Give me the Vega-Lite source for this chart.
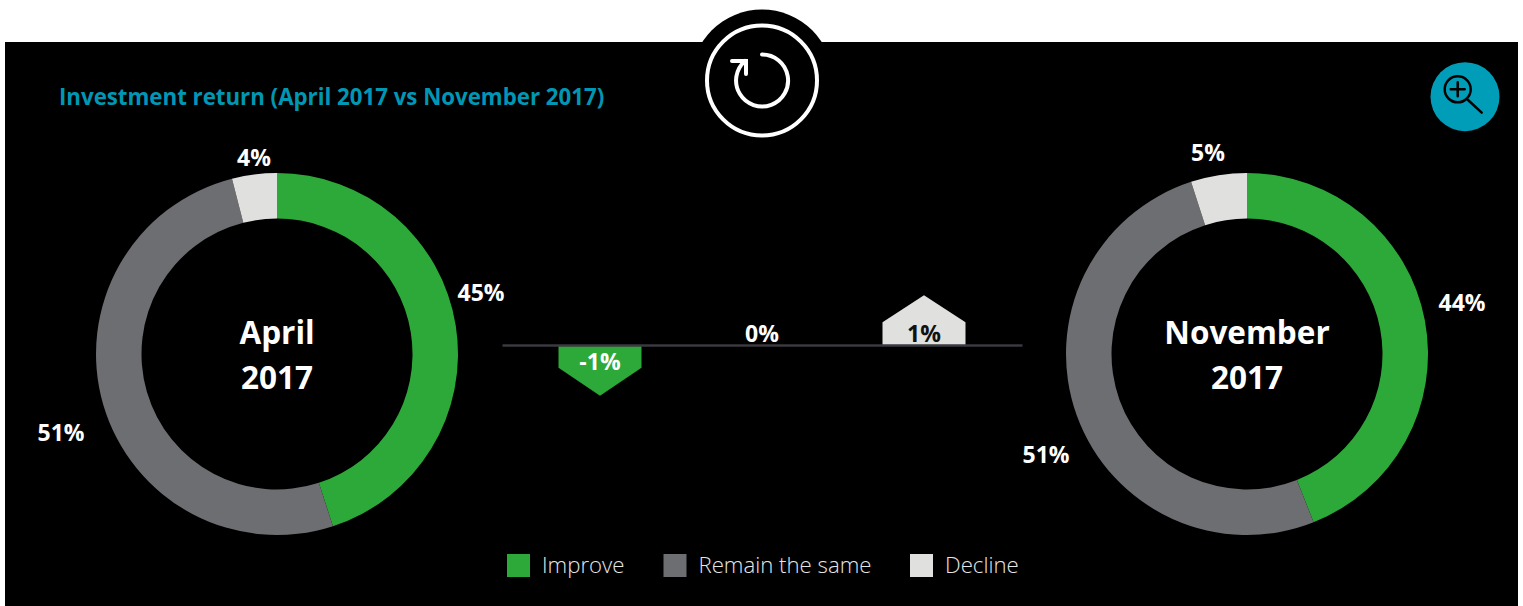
{
  "$schema": "https://vega.github.io/schema/vega-lite/v6.json",
  "width": 1513,
  "height": 564,
  "padding": {"left": 5, "top": 42, "right": 5, "bottom": 0},
  "autosize": "none",
  "background": "#ffffff",
  "title": {
    "text": "Investment return (April 2017 vs November 2017)",
    "anchor": "start",
    "frame": "group",
    "offset": 0,
    "dx": 54,
    "dy": 118,
    "baseline": "alphabetic",
    "font": "Open Sans",
    "fontSize": 22.25,
    "fontWeight": 700,
    "color": "#0097b5"
  },
  "config": {
    "view": {"fill": "#000000", "stroke": null},
    "text": {"font": "Open Sans"}
  },
  "datasets": {
    "shares": [
      {"chart": "April 2017", "category": "Improve", "share": 45, "rank": 1},
      {"chart": "April 2017", "category": "Remain the same", "share": 51, "rank": 2},
      {"chart": "April 2017", "category": "Decline", "share": 4, "rank": 3},
      {"chart": "November 2017", "category": "Improve", "share": 44, "rank": 1},
      {"chart": "November 2017", "category": "Remain the same", "share": 51, "rank": 2},
      {"chart": "November 2017", "category": "Decline", "share": 5, "rank": 3}
    ],
    "changes": [
      {"category": "Improve", "change": -1},
      {"category": "Remain the same", "change": 0},
      {"category": "Decline", "change": 1}
    ],
    "controls": [
      {"control": "refresh"},
      {"control": "zoom"}
    ]
  },
  "resolve": {"scale": {"x": "independent", "y": "independent"}},
  "layer": [
    {
      "data": {"name": "shares"},
      "transform": [{"filter": "datum.chart === 'April 2017'"}],
      "mark": {"type": "arc", "radius": 181, "innerRadius": 135.5},
      "encoding": {
        "x": {"field": "chart", "type": "nominal", "axis": null, "scale": {"type": "point", "domain": ["April 2017", "November 2017"], "range": [272, 1242], "padding": 0, "round": false}},
        "y": {"field": "chart", "type": "nominal", "axis": null, "scale": {"type": "point", "domain": ["April 2017", "November 2017"], "range": [312, 312], "padding": 0, "round": false}},
        "theta": {"field": "share", "type": "quantitative", "stack": true, "scale": {"domain": [0, 100]}},
        "order": {"field": "rank", "type": "ordinal"},
        "color": {
          "field": "category",
          "type": "nominal",
          "scale": {"domain": ["Improve", "Remain the same", "Decline"], "range": ["#2ca939", "#6d6e72", "#e0e0de"]},
          "legend": {
            "title": null,
            "orient": "none",
            "legendX": 502,
            "legendY": 512,
            "direction": "horizontal",
            "columns": 3,
            "columnPadding": 38.5,
            "symbolType": "square",
            "symbolSize": 529,
            "symbolStrokeWidth": 0,
            "labelOffset": 12,
            "labelFont": "Open Sans",
            "labelFontWeight": 300,
            "labelFontSize": 22.2,
            "labelColor": "#e6e6e6",
            "labelLimit": 300
          }
        }
      }
    },
    {
      "data": {"name": "shares"},
      "transform": [{"filter": "datum.chart === 'November 2017'"}],
      "mark": {"type": "arc", "radius": 181, "innerRadius": 135.5},
      "encoding": {
        "x": {"field": "chart", "type": "nominal", "axis": null, "scale": {"type": "point", "domain": ["April 2017", "November 2017"], "range": [272, 1242], "padding": 0, "round": false}},
        "y": {"field": "chart", "type": "nominal", "axis": null, "scale": {"type": "point", "domain": ["April 2017", "November 2017"], "range": [312, 312], "padding": 0, "round": false}},
        "theta": {"field": "share", "type": "quantitative", "stack": true, "scale": {"domain": [0, 100]}},
        "order": {"field": "rank", "type": "ordinal"},
        "color": {"field": "category", "type": "nominal"}
      }
    },
    {
      "data": {"values": [{"chart": "April 2017"}, {"chart": "November 2017"}]},
      "mark": {"type": "text", "lineBreak": " ", "lineHeight": 45, "fontSize": 31.5, "fontWeight": 700, "color": "#ffffff", "align": "center", "baseline": "middle"},
      "encoding": {
        "x": {"field": "chart", "type": "nominal", "axis": null, "scale": {"type": "point", "domain": ["April 2017", "November 2017"], "range": [272, 1242], "padding": 0, "round": false}},
        "y": {"field": "chart", "type": "nominal", "axis": null, "scale": {"type": "point", "domain": ["April 2017", "November 2017"], "range": [293, 293], "padding": 0, "round": false}},
        "text": {"field": "chart"}
      }
    },
    {
      "data": {"name": "changes"},
      "transform": [
        {"filter": "datum.change !== 0"},
        {"calculate": "datum.change < 0 ? 'down' : 'up'", "as": "direction"},
        {"calculate": "abs(datum.change)", "as": "magnitude"}
      ],
      "mark": {"type": "point", "filled": true, "opacity": 1, "strokeWidth": 0},
      "encoding": {
        "x": {"field": "category", "type": "nominal", "axis": {"orient": "bottom", "offset": -261, "title": null, "labels": false, "ticks": false, "grid": false, "domain": true, "domainColor": "#3a3a3f", "domainWidth": 2.5, "zindex": 1}, "scale": {"type": "point", "domain": ["Improve", "Remain the same", "Decline"], "range": [497, 1017], "padding": 0.605, "round": false}},
        "y": {"datum": 0, "type": "quantitative", "axis": null, "scale": {"domain": [-1, 1], "range": [331, 275]}},
        "shape": {"field": "direction", "type": "nominal", "legend": null, "scale": {"domain": ["down", "up"], "range": ["M-1,0L1,0L1,0.55L0,1.22L-1,0.55Z", "M-1,0L1,0L1,-0.55L0,-1.2L-1,-0.55Z"]}},
        "size": {"field": "magnitude", "type": "quantitative", "legend": null, "scale": {"domain": [0, 1], "range": [0, 6889]}},
        "color": {"field": "category", "type": "nominal"}
      }
    },
    {
      "data": {"name": "changes"},
      "transform": [{"calculate": "datum.change + '%'", "as": "label"}, {"filter": "datum.change < 0"}],
      "mark": {"type": "text", "fontSize": 23, "fontWeight": 700, "color": "#ffffff", "dy": 18, "baseline": "middle"},
      "encoding": {
        "x": {"field": "category", "type": "nominal", "axis": null, "scale": {"type": "point", "domain": ["Improve", "Remain the same", "Decline"], "range": [497, 1017], "padding": 0.605, "round": false}},
        "y": {"datum": 0, "type": "quantitative", "axis": null, "scale": {"domain": [-1, 1], "range": [331, 275]}},
        "text": {"field": "label"}
      }
    },
    {
      "data": {"name": "changes"},
      "transform": [{"calculate": "datum.change + '%'", "as": "label"}, {"filter": "datum.change >= 0"}],
      "mark": {"type": "text", "fontSize": 23, "fontWeight": 700, "dy": -10, "baseline": "middle"},
      "encoding": {
        "x": {"field": "category", "type": "nominal", "axis": null, "scale": {"type": "point", "domain": ["Improve", "Remain the same", "Decline"], "range": [497, 1017], "padding": 0.605, "round": false}},
        "y": {"datum": 0, "type": "quantitative", "axis": null, "scale": {"domain": [-1, 1], "range": [331, 275]}},
        "text": {"field": "label"},
        "color": {"condition": {"test": "datum.change > 0", "value": "#111111"}, "value": "#ffffff"}
      }
    },
    {
      "data": {"name": "controls"},
      "transform": [{"filter": "datum.control === 'refresh'"}],
      "mark": {"type": "point", "shape": "circle", "filled": true, "color": "#000000", "opacity": 1, "size": 20164, "clip": false},
      "encoding": {
        "x": {"field": "control", "type": "nominal", "axis": null, "scale": {"type": "point", "domain": ["refresh", "zoom"], "range": [757, 1460], "padding": 0, "round": false}},
        "y": {"field": "control", "type": "nominal", "axis": null, "scale": {"type": "point", "domain": ["refresh", "zoom"], "range": [38.5, 54.7], "padding": 0, "round": false}}
      }
    },
    {
      "data": {"name": "controls"},
      "transform": [{"filter": "datum.control === 'refresh'"}],
      "mark": {"type": "point", "shape": "circle", "filled": false, "stroke": "#ffffff", "strokeWidth": 4, "opacity": 1, "size": 12100},
      "encoding": {
        "x": {"field": "control", "type": "nominal", "axis": null, "scale": {"type": "point", "domain": ["refresh", "zoom"], "range": [757, 1460], "padding": 0, "round": false}},
        "y": {"field": "control", "type": "nominal", "axis": null, "scale": {"type": "point", "domain": ["refresh", "zoom"], "range": [38.5, 54.7], "padding": 0, "round": false}}
      }
    },
    {
      "data": {"name": "controls"},
      "transform": [{"filter": "datum.control === 'refresh'"}],
      "mark": {"type": "point", "shape": "M0,-0.52A0.52,0.52,0,1,1,-0.34,-0.392M-0.6,-0.39L-0.32,-0.39L-0.32,-0.13", "filled": false, "stroke": "#ffffff", "strokeWidth": 4, "strokeCap": "round", "opacity": 1, "size": 10000},
      "encoding": {
        "x": {"field": "control", "type": "nominal", "axis": null, "scale": {"type": "point", "domain": ["refresh", "zoom"], "range": [757, 1460], "padding": 0, "round": false}},
        "y": {"field": "control", "type": "nominal", "axis": null, "scale": {"type": "point", "domain": ["refresh", "zoom"], "range": [38.5, 54.7], "padding": 0, "round": false}}
      }
    },
    {
      "data": {"name": "controls"},
      "transform": [{"filter": "datum.control === 'zoom'"}],
      "mark": {"type": "point", "shape": "circle", "filled": true, "color": "#009db8", "opacity": 1, "size": 4761},
      "encoding": {
        "x": {"field": "control", "type": "nominal", "axis": null, "scale": {"type": "point", "domain": ["refresh", "zoom"], "range": [757, 1460], "padding": 0, "round": false}},
        "y": {"field": "control", "type": "nominal", "axis": null, "scale": {"type": "point", "domain": ["refresh", "zoom"], "range": [38.5, 54.7], "padding": 0, "round": false}}
      }
    },
    {
      "data": {"name": "controls"},
      "transform": [{"filter": "datum.control === 'zoom'"}],
      "mark": {"type": "point", "shape": "M-0.406,-0.148A0.26,0.26,0,1,1,0.114,-0.148A0.26,0.26,0,1,1,-0.406,-0.148ZM-0.146,-0.288L-0.146,-0.008M-0.286,-0.148L-0.006,-0.148M0.06,0.066L0.334,0.32", "filled": false, "stroke": "#000000", "strokeWidth": 2.5, "strokeCap": "round", "opacity": 1, "size": 10000},
      "encoding": {
        "x": {"field": "control", "type": "nominal", "axis": null, "scale": {"type": "point", "domain": ["refresh", "zoom"], "range": [757, 1460], "padding": 0, "round": false}},
        "y": {"field": "control", "type": "nominal", "axis": null, "scale": {"type": "point", "domain": ["refresh", "zoom"], "range": [38.5, 54.7], "padding": 0, "round": false}}
      }
    },
    {
      "data": {"name": "shares"},
      "transform": [{"calculate": "datum.share + '%'", "as": "label"}, {"filter": "datum.chart === 'April 2017' && datum.category === 'Improve'"}],
      "mark": {"type": "text", "fontSize": 23, "fontWeight": 700, "color": "#ffffff", "baseline": "middle", "dx": 204, "dy": -60},
      "encoding": {
        "x": {"field": "chart", "type": "nominal", "axis": null, "scale": {"type": "point", "domain": ["April 2017", "November 2017"], "range": [272, 1242], "padding": 0, "round": false}},
        "y": {"field": "chart", "type": "nominal", "axis": null, "scale": {"type": "point", "domain": ["April 2017", "November 2017"], "range": [312, 312], "padding": 0, "round": false}},
        "text": {"field": "label"}
      }
    },
    {
      "data": {"name": "shares"},
      "transform": [{"calculate": "datum.share + '%'", "as": "label"}, {"filter": "datum.chart === 'April 2017' && datum.category === 'Remain the same'"}],
      "mark": {"type": "text", "fontSize": 23, "fontWeight": 700, "color": "#ffffff", "baseline": "middle", "dx": -216, "dy": 80},
      "encoding": {
        "x": {"field": "chart", "type": "nominal", "axis": null, "scale": {"type": "point", "domain": ["April 2017", "November 2017"], "range": [272, 1242], "padding": 0, "round": false}},
        "y": {"field": "chart", "type": "nominal", "axis": null, "scale": {"type": "point", "domain": ["April 2017", "November 2017"], "range": [312, 312], "padding": 0, "round": false}},
        "text": {"field": "label"}
      }
    },
    {
      "data": {"name": "shares"},
      "transform": [{"calculate": "datum.share + '%'", "as": "label"}, {"filter": "datum.chart === 'April 2017' && datum.category === 'Decline'"}],
      "mark": {"type": "text", "fontSize": 23, "fontWeight": 700, "color": "#ffffff", "baseline": "middle", "dx": -23, "dy": -195},
      "encoding": {
        "x": {"field": "chart", "type": "nominal", "axis": null, "scale": {"type": "point", "domain": ["April 2017", "November 2017"], "range": [272, 1242], "padding": 0, "round": false}},
        "y": {"field": "chart", "type": "nominal", "axis": null, "scale": {"type": "point", "domain": ["April 2017", "November 2017"], "range": [312, 312], "padding": 0, "round": false}},
        "text": {"field": "label"}
      }
    },
    {
      "data": {"name": "shares"},
      "transform": [{"calculate": "datum.share + '%'", "as": "label"}, {"filter": "datum.chart === 'November 2017' && datum.category === 'Improve'"}],
      "mark": {"type": "text", "fontSize": 23, "fontWeight": 700, "color": "#ffffff", "baseline": "middle", "dx": 215, "dy": -50},
      "encoding": {
        "x": {"field": "chart", "type": "nominal", "axis": null, "scale": {"type": "point", "domain": ["April 2017", "November 2017"], "range": [272, 1242], "padding": 0, "round": false}},
        "y": {"field": "chart", "type": "nominal", "axis": null, "scale": {"type": "point", "domain": ["April 2017", "November 2017"], "range": [312, 312], "padding": 0, "round": false}},
        "text": {"field": "label"}
      }
    },
    {
      "data": {"name": "shares"},
      "transform": [{"calculate": "datum.share + '%'", "as": "label"}, {"filter": "datum.chart === 'November 2017' && datum.category === 'Remain the same'"}],
      "mark": {"type": "text", "fontSize": 23, "fontWeight": 700, "color": "#ffffff", "baseline": "middle", "dx": -201, "dy": 102},
      "encoding": {
        "x": {"field": "chart", "type": "nominal", "axis": null, "scale": {"type": "point", "domain": ["April 2017", "November 2017"], "range": [272, 1242], "padding": 0, "round": false}},
        "y": {"field": "chart", "type": "nominal", "axis": null, "scale": {"type": "point", "domain": ["April 2017", "November 2017"], "range": [312, 312], "padding": 0, "round": false}},
        "text": {"field": "label"}
      }
    },
    {
      "data": {"name": "shares"},
      "transform": [{"calculate": "datum.share + '%'", "as": "label"}, {"filter": "datum.chart === 'November 2017' && datum.category === 'Decline'"}],
      "mark": {"type": "text", "fontSize": 23, "fontWeight": 700, "color": "#ffffff", "baseline": "middle", "dx": -39, "dy": -200},
      "encoding": {
        "x": {"field": "chart", "type": "nominal", "axis": null, "scale": {"type": "point", "domain": ["April 2017", "November 2017"], "range": [272, 1242], "padding": 0, "round": false}},
        "y": {"field": "chart", "type": "nominal", "axis": null, "scale": {"type": "point", "domain": ["April 2017", "November 2017"], "range": [312, 312], "padding": 0, "round": false}},
        "text": {"field": "label"}
      }
    }
  ]
}
